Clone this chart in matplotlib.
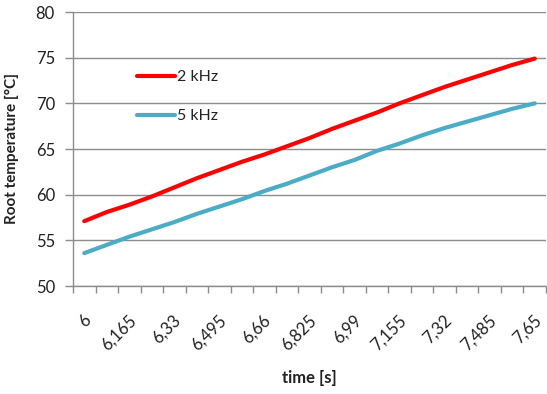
import numpy as np
import matplotlib
matplotlib.use("Agg")
import matplotlib.pyplot as plt
import matplotlib.transforms as mtrans

time_labels = ["6", "6,0825", "6,165", "6,2475", "6,33", "6,4125", "6,495", "6,5775",
               "6,66", "6,7425", "6,825", "6,9075", "6,99", "7,0725", "7,155", "7,2375",
               "7,32", "7,4025", "7,485", "7,5675", "7,65"]
temp_2khz = [57.1, 58.1, 58.9, 59.8, 60.8, 61.8, 62.7, 63.6, 64.4, 65.3, 66.2,
             67.2, 68.1, 69.0, 70.0, 70.9, 71.8, 72.6, 73.4, 74.2, 74.9]
temp_5khz = [53.6, 54.5, 55.4, 56.2, 57.0, 57.9, 58.7, 59.5, 60.4, 61.2, 62.1,
             63.0, 63.8, 64.8, 65.6, 66.5, 67.3, 68.0, 68.7, 69.4, 70.0]
y_ticks = [50, 55, 60, 65, 70, 75, 80]

plt.rcParams['font.family'] = ['Lato', 'DejaVu Sans']

W, H = 547, 394
fig = plt.figure(figsize=(W / 100, H / 100), dpi=100)
L, R, T, B = 73, 546, 12, 286
ax = fig.add_axes([L / W, 1 - B / H, (R - L) / W, (B - T) / H])

x = np.arange(len(time_labels))
ax.plot(x, temp_2khz, color='#FF0000', lw=3.0, label='2 kHz', solid_capstyle='round')
ax.plot(x, temp_5khz, color='#4BACC6', lw=3.0, label='5 kHz', solid_capstyle='round')

ax.set_xlim(-0.5, len(time_labels) - 0.5)
ax.set_ylim(50, 80)
ax.set_yticks(y_ticks)
ax.set_yticklabels([str(v) for v in y_ticks])
ax.grid(axis='y', color='#8c8c8c', lw=1.0)
ax.set_axisbelow(True)

gc = '#8c8c8c'
for s in ['top', 'right']:
    ax.spines[s].set_visible(False)
for s in ['left', 'bottom']:
    ax.spines[s].set_color(gc)
    ax.spines[s].set_linewidth(1.0)

ax.set_xticks(np.arange(-0.5, len(time_labels), 1.0))
ax.set_xticklabels([])
ax.tick_params(axis='x', which='major', length=5, color=gc, width=1)
ax.set_xticks(x[::2], minor=True)
ax.set_xticklabels(time_labels[::2], minor=True, rotation=45,
                   ha='right', va='center', rotation_mode='anchor')
ax.tick_params(axis='x', which='minor', length=0, pad=23, labelsize=12, labelcolor='#222222')
ax.tick_params(axis='y', length=6, color=gc, width=1, pad=7, labelsize=12, labelcolor='#222222')

off = mtrans.ScaledTranslation(4 / 100, 0, fig.dpi_scale_trans)
for lab in ax.get_xticklabels(minor=True):
    lab.set_transform(lab.get_transform() + off)

ax.set_xlabel('time [s]', fontsize=12, fontweight='bold', color='#222222')
ax.xaxis.set_label_coords(0.5, -(378 - B) / (B - T))
ax.xaxis.label.set_va('center')
ax.set_ylabel('Root temperature [°C]', fontsize=11, fontweight='bold', color='#222222')
ax.yaxis.set_label_coords(-(L - 12) / (R - L), 0.5)
ax.yaxis.label.set_va('center')

leg = ax.legend(loc='upper left', bbox_to_anchor=((137 - L) / (R - L), (B - 70) / (B - T)),
                frameon=False, fontsize=11.5, handlelength=2.4, handletextpad=0.1,
                labelspacing=1.55, borderpad=0, borderaxespad=0)
for t in leg.get_texts():
    t.set_color('#222222')

fig.savefig('out.png', dpi=100)
